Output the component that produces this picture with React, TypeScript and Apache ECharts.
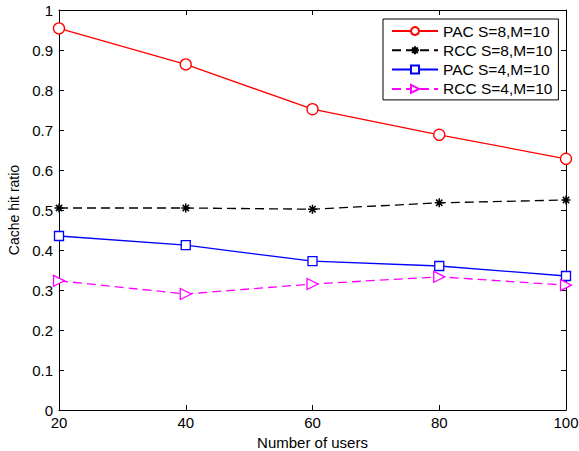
import React, { useEffect, useRef } from "react";
import * as echarts from "echarts";

const users = [20, 40, 60, 80, 100];
const pacS8 = [0.954, 0.864, 0.752, 0.688, 0.628];
const rccS8 = [0.505, 0.505, 0.502, 0.518, 0.525];
const pacS4 = [0.435, 0.412, 0.372, 0.36, 0.335];
const rccS4 = [0.323, 0.29, 0.315, 0.333, 0.312];
const seriesNames = ["PAC S=8,M=10", "RCC S=8,M=10", "PAC S=4,M=10", "RCC S=4,M=10"];

const FONT = "Liberation Sans, Arial, Helvetica, sans-serif";
const STAR = "path://M0,-10 L0,10 M-10,0 L10,0 M-7,-7 L7,7 M-7,7 L7,-7";
const TRI = "path://M0,0 L10,5 L0,10 Z";

function pairs(vals: number[]) {
  return users.map((u, i) => [u, vals[i]]);
}

export default function App() {
  const ref = useRef<HTMLDivElement>(null);
  useEffect(() => {
    if (!ref.current) return;
    const chart = echarts.init(ref.current, undefined, { renderer: "svg" });
    const axisCommon = {
      axisLine: { show: true, onZero: false, lineStyle: { color: "#000", width: 1 } },
      axisTick: { show: true, inside: true, length: 5, lineStyle: { color: "#000" } },
      splitLine: { show: false },
    };
    chart.setOption({
      animation: false,
      backgroundColor: "#fff",
      textStyle: { fontFamily: FONT },
      grid: { left: 59, right: 13, top: 10, bottom: 41, show: false, containLabel: false, outerBoundsMode: "none" },
      legend: {
        orient: "vertical",
        left: 383,
        top: 19,
        width: 172,
        padding: [3, 6, 2, 8],
        itemGap: 1.3,
        itemWidth: 46,
        itemHeight: 10,
        backgroundColor: "#fff",
        borderColor: "#000",
        borderWidth: 1,
        borderRadius: 0,
        textStyle: { fontSize: 15.5, lineHeight: 18, color: "#000", fontFamily: FONT, padding: [0, 0, 0, 0] },
        data: seriesNames,
      },
      xAxis: [
        {
          type: "value",
          min: 20,
          max: 100,
          interval: 20,
          name: "Number of users",
          nameLocation: "middle",
          nameGap: 24,
          nameTextStyle: { fontSize: 15, color: "#000", fontFamily: FONT },
          axisLabel: { fontSize: 15, color: "#000", margin: 5, fontFamily: FONT },
          ...axisCommon,
        },
        {
          type: "value",
          position: "top",
          min: 20,
          max: 100,
          interval: 20,
          axisLabel: { show: false },
          ...axisCommon,
        },
      ],
      yAxis: [
        {
          type: "value",
          min: 0,
          max: 1,
          interval: 0.1,
          name: "Cache hit ratio",
          nameLocation: "middle",
          nameGap: 36,
          nameTextStyle: { fontSize: 14, color: "#000", fontFamily: FONT },
          axisLabel: { fontSize: 15, color: "#000", margin: 6, fontFamily: FONT },
          ...axisCommon,
        },
        {
          type: "value",
          position: "right",
          min: 0,
          max: 1,
          interval: 0.1,
          axisLabel: { show: false },
          ...axisCommon,
        },
      ],
      series: [
        {
          name: seriesNames[0],
          type: "line",
          data: pairs(pacS8),
          color: "#ff0000",
          symbol: "circle",
          symbolSize: 11,
          lineStyle: { color: "#ff0000", width: 1.3 },
          itemStyle: { color: "#fff", borderColor: "#ff0000", borderWidth: 1.3 },
        },
        {
          name: seriesNames[1],
          type: "line",
          data: pairs(rccS8),
          color: "#000",
          symbol: STAR,
          symbolSize: 9,
          lineStyle: { color: "#000", width: 1.3, type: [9, 5] },
          itemStyle: { color: "#000", borderColor: "#000", borderWidth: 1.5 },
        },
        {
          name: seriesNames[2],
          type: "line",
          data: pairs(pacS4),
          color: "#0000ff",
          symbol: "rect",
          symbolSize: 9,
          lineStyle: { color: "#0000ff", width: 1.3 },
          itemStyle: { color: "#fff", borderColor: "#0000ff", borderWidth: 1.3 },
        },
        {
          name: seriesNames[3],
          type: "line",
          data: pairs(rccS4),
          color: "#ff00ff",
          symbol: TRI,
          symbolSize: 11,
          lineStyle: { color: "#ff00ff", width: 1.3, type: [9, 5] },
          itemStyle: { color: "#fff", borderColor: "#ff00ff", borderWidth: 1.3 },
        },
      ],
    });
    return () => chart.dispose();
  }, []);
  return <div ref={ref} style={{ width: 579, height: 451, position: "absolute", left: 0, top: 0 }} />;
}
